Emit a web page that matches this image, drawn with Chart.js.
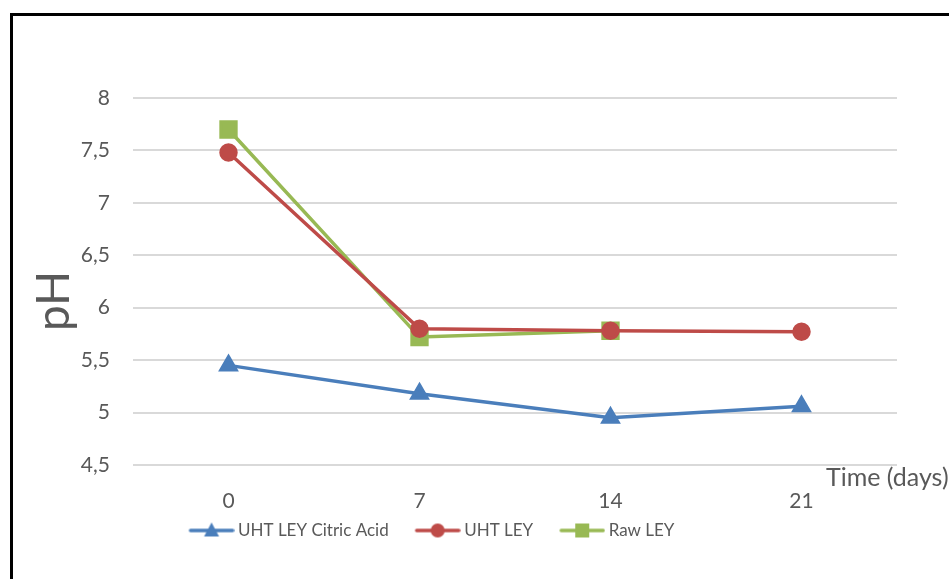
<!DOCTYPE html>
<html>
<head>
<meta charset="utf-8">
<style>
  html, body { margin: 0; padding: 0; background: #fff; }
  #wrap { position: relative; width: 949px; height: 579px; overflow: hidden; }
  #frame { position: absolute; left: 10px; top: 13px; width: 1000px; height: 700px;
           border-left: 3px solid #000; border-top: 3px solid #000; pointer-events: none; }
  canvas { position: absolute; left: 0; top: 0; }
</style>
</head>
<body>
<div id="wrap">
  <canvas id="myChart" width="949" height="579"></canvas>
  <div id="frame"></div>
</div>

<script src="https://cdn.jsdelivr.net/npm/chart.js"></script>

<script>
  const days = ['0', '7', '14', '21'];
  const citricAcid = [5.45, 5.18, 4.95, 5.06];
  const uhtLey = [7.48, 5.80, 5.78, 5.77];
  const rawLey = [7.70, 5.72, 5.78, null];
  const seriesNames = ['UHT LEY Citric Acid', 'UHT LEY', 'Raw LEY'];
  const yTitle = 'pH';
  const xTitle = 'Time (days)';

  const FONT = 'Lato';
  const GREY = '#595959';
  const blue = '#4A7EBB', red = '#BE4B48', green = '#98B954';

  // legend icon: line with the marker in the middle
  function legendIcon(color, style) {
    const c = document.createElement('canvas');
    c.width = 67; c.height = 20;
    const g = c.getContext('2d');
    g.strokeStyle = color; g.fillStyle = color;
    g.lineWidth = 3.5; g.lineCap = 'round';
    g.beginPath(); g.moveTo(23, 10); g.lineTo(65, 10); g.stroke();
    const cx = 44, cy = 10;
    g.beginPath();
    if (style === 'triangle') {
      g.moveTo(cx, cy - 8); g.lineTo(cx + 7.5, cy + 6); g.lineTo(cx - 7.5, cy + 6);
    } else if (style === 'circle') {
      g.arc(cx, cy, 7, 0, Math.PI * 2);
    } else {
      g.rect(cx - 7, cy - 7, 14, 14);
    }
    g.fill();
    return c;
  }
  const icons = [legendIcon(blue, 'triangle'), legendIcon(red, 'circle'), legendIcon(green, 'rect')];

  const extraText = {
    id: 'extraText',
    afterLayout(chart) {
      chart.legend.left -= 32;
      chart.legend.right -= 32;
    },
    afterDraw(chart) {
      const c = chart.ctx;
      c.save();
      c.fillStyle = GREY;
      c.font = '25px ' + FONT;
      c.textBaseline = 'middle';
      c.textAlign = 'left';
      c.fillText(xTitle, 826, 478);
      c.translate(54, 301);
      c.rotate(-Math.PI / 2);
      c.textAlign = 'center';
      c.font = '46px ' + FONT;
      c.fillText(yTitle, 0, 0);
      c.restore();
    }
  };

  const ctx = document.getElementById('myChart');
  new Chart(ctx, {
    type: 'line',
    data: {
      labels: days,
      datasets: [
        { label: seriesNames[0], data: citricAcid, borderColor: blue, backgroundColor: blue,
          pointStyle: 'triangle', pointRadius: 8.5, borderWidth: 3.5 },
        { label: seriesNames[1], data: uhtLey, borderColor: red, backgroundColor: red,
          pointStyle: 'circle', pointRadius: 7.5, borderWidth: 3.5 },
        { label: seriesNames[2], data: rawLey, borderColor: green, backgroundColor: green,
          pointStyle: 'rect', pointRadius: 10.5, borderWidth: 3.5 }
      ]
    },
    options: {
      responsive: false,
      animation: false,
      layout: { padding: { left: 14, right: 52, top: 98, bottom: 30 } },
      plugins: {
        legend: {
          position: 'bottom',
          labels: {
            font: { family: FONT, size: 17 },
            color: GREY,
            usePointStyle: true,
            pointStyleWidth: 57,
            boxHeight: 18,
            padding: 10,
            generateLabels: (chart) => chart.data.datasets.map((ds, i) => ({
              text: ds.label, pointStyle: icons[i], fillStyle: ds.borderColor,
              strokeStyle: ds.borderColor, lineWidth: 0, fontColor: GREY, datasetIndex: i
            }))
          }
        },
        tooltip: { enabled: false }
      },
      scales: {
        x: {
          offset: true,
          grid: { display: false },
          border: { display: false },
          ticks: { color: GREY, font: { family: FONT, size: 21 }, padding: 16 },
          afterFit: (s) => { s.height = 47; }
        },
        y: {
          min: 4.5, max: 8,
          grid: { color: '#D9D9D9', lineWidth: 2, drawTicks: false },
          border: { display: false },
          ticks: {
            stepSize: 0.5, padding: 23, color: GREY, font: { family: FONT, size: 21 },
            callback: (v) => String(v).replace('.', ',')
          },
          afterFit: (s) => { s.width = 119; }
        }
      }
    },
    plugins: [extraText]
  });
</script>
</body>
</html>
